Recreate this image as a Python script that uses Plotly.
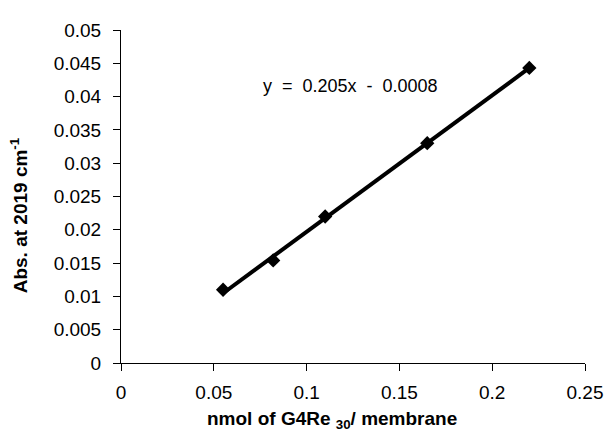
import plotly.graph_objects as go

x_nmol = [0.055, 0.082, 0.11, 0.165, 0.22]
y_abs = [0.011, 0.0154, 0.022, 0.033, 0.0443]
slope = 0.205
intercept = -0.0008
x_ticks = [0, 0.05, 0.1, 0.15, 0.2, 0.25]
x_tick_text = ["0", "0.05", "0.1", "0.15", "0.2", "0.25"]
y_ticks = [0, 0.005, 0.01, 0.015, 0.02, 0.025, 0.03, 0.035, 0.04, 0.045, 0.05]
y_tick_text = ["0", "0.005", "0.01", "0.015", "0.02", "0.025", "0.03", "0.035", "0.04", "0.045", "0.05"]

fit_x = [min(x_nmol), max(x_nmol)]
fit_y = [slope * v + intercept for v in fit_x]

FONT = "Liberation Sans, Arial, sans-serif"

fig = go.Figure()
fig.add_trace(go.Scatter(x=x_nmol, y=y_abs, mode="markers",
                         marker=dict(symbol="diamond", size=11, color="black"),
                         showlegend=False))
fig.add_trace(go.Scatter(x=fit_x, y=fit_y, mode="lines",
                         line=dict(color="black", width=4), showlegend=False))

fig.add_annotation(x=0.1237, y=0.0416, xref="x", yref="y",
                   xanchor="center", yanchor="middle",
                   text="y  =  0.205x  -  0.0008", showarrow=False,
                   font=dict(family=FONT, size=18, color="black"))
fig.add_annotation(x=-0.221, y=0.445, xref="paper", yref="paper",
                   xanchor="center", yanchor="middle",
                   text="<b>Abs. at 2019 cm<sup>-1</sup></b>", textangle=-90,
                   showarrow=False, font=dict(family=FONT, size=19, color="black"))
fig.add_annotation(x=0.455, y=-0.17, xref="paper", yref="paper",
                   xanchor="center", yanchor="middle",
                   text="<b>nmol of G4Re <sub>30</sub>/ membrane</b>",
                   showarrow=False, font=dict(family=FONT, size=19, color="black"))

fig.update_xaxes(range=[0, 0.25], tickvals=x_ticks, ticktext=x_tick_text,
                 showgrid=False, zeroline=False, showline=True, linecolor="black",
                 linewidth=1, ticks="outside", ticklen=7, tickcolor="black",
                 ticklabelstandoff=5,
                 tickfont=dict(family=FONT, size=19, color="black"))
fig.update_yaxes(range=[0, 0.05], tickvals=y_ticks, ticktext=y_tick_text,
                 showgrid=False, zeroline=False, showline=True, linecolor="black",
                 linewidth=1, ticks="outside", ticklen=7, tickcolor="black",
                 ticklabelstandoff=8,
                 tickfont=dict(family=FONT, size=19, color="black"))

fig.update_layout(width=607, height=425, margin=dict(l=113, r=27, t=14, b=70),
                  plot_bgcolor="white", paper_bgcolor="white")

fig.write_html("out.html")
